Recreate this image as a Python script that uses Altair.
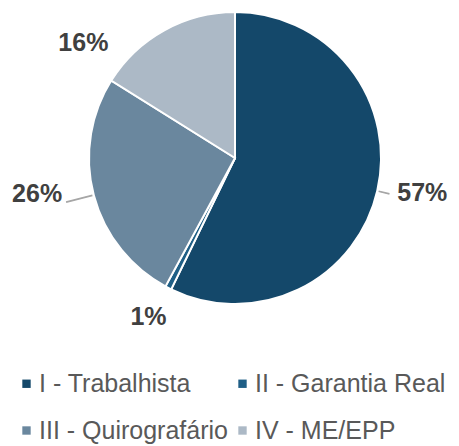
import altair as alt
import pandas as pd

categories = ["I - Trabalhista", "II - Garantia Real", "III - Quirografário", "IV - ME/EPP"]
values = [57.2, 0.7, 26.0, 16.1]
labels = ["57%", "1%", "26%", "16%"]
colors = ["#14486a", "#1f5f86", "#6a879e", "#acb9c6"]

df = pd.DataFrame({"cat": categories, "value": values, "label": labels})
df["end"] = df["value"].cumsum()
df["start"] = df["end"] - df["value"]
df["mid"] = (df["start"] + df["end"]) / 2
df["mid2"] = df["mid"] + 0.05
total = float(df["value"].sum())

CX, CY = 227, 150
theta_scale = alt.Scale(domain=[0, total])

base = alt.Chart(df)

pie = base.mark_arc(stroke="white", strokeWidth=2, outerRadius=146).encode(
    theta=alt.Theta("start:Q", scale=theta_scale),
    theta2="end:Q",
    x=alt.value(CX),
    y=alt.value(CY),
    color=alt.Color(
        "cat:N",
        scale=alt.Scale(domain=categories, range=colors),
        sort=categories,
        legend=alt.Legend(
            title=None,
            orient="none",
            direction="horizontal",
            legendX=6,
            legendY=363,
            padding=0,
            columns=2,
            columnPadding=2,
            rowPadding=21,
            symbolType="square",
            symbolSize=70,
            symbolOffset=0,
            symbolStrokeWidth=0,
            labelFont="Liberation Sans",
            labelFontSize=25,
            labelColor="#595959",
            labelOffset=0,
            labelLimit=400,
        ),
    ),
)

leaders = []
for cat, r2 in [(categories[0], 158), (categories[2], 174)]:
    leaders.append(
        base.transform_filter(alt.datum.cat == cat)
        .mark_arc(stroke="#a6a6a6", strokeWidth=1.2, fill="#a6a6a6", radius=148, radius2=r2)
        .encode(
            theta=alt.Theta("mid:Q", scale=theta_scale),
            theta2="mid2:Q",
            x=alt.value(CX),
            y=alt.value(CY),
        )
    )

offsets = {
    categories[0]: (7, -6),
    categories[1]: (-2, -6),
    categories[2]: (-19, -11),
    categories[3]: (-62, 47),
}
texts = []
for cat, (dx, dy) in offsets.items():
    texts.append(
        base.transform_filter(alt.datum.cat == cat)
        .mark_text(
            font="Liberation Sans",
            fontWeight="bold",
            fontSize=25,
            color="#404040",
            radius=185,
            dx=dx,
            dy=dy,
            align="center",
            baseline="middle",
        )
        .encode(
            theta=alt.Theta("mid:Q", scale=theta_scale),
            text="label:N",
            x=alt.value(CX),
            y=alt.value(CY),
        )
    )

chart = (
    alt.layer(pie, *leaders, *texts)
    .properties(width=443, height=436, padding=0, autosize=alt.AutoSizeParams(type="none"))
    .configure_view(stroke=None)
)

chart.save("out.html", embed_options={"renderer": "svg", "actions": False})
